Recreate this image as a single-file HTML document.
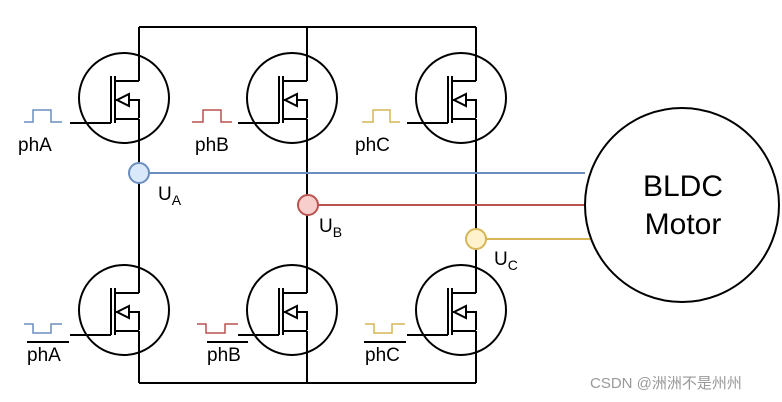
<!DOCTYPE html>
<html><head><style>body{margin:0;background:#fff}svg{display:block}text{font-family:"Liberation Sans",sans-serif}</style></head><body>
<svg width="782" height="402" viewBox="0 0 782 402" xmlns="http://www.w3.org/2000/svg">
<defs>
<g id="m" fill="none" stroke="#000" stroke-width="2">
<circle cx="-15" cy="0" r="45"/>
<path d="M0,-17 H-24 M-24,-22 V25 M-28,-22 V25 M-28,25 H-69 M-24,21 H0 M-24,2 H0 V20"/>
<path d="M-22,2 L-10,-4 V8 Z" fill="#fff"/>
</g>
</defs>
<g fill="none" stroke="#000" stroke-width="2">
<path d="M139,27 H476 M139,383 H476"/>
<path d="M139,27 V81 M139,119 V293 M139,331 V383"/>
<path d="M307,27 V81 M307,119 V293 M307,331 V383"/>
<path d="M476,27 V81 M476,119 V293 M476,331 V383"/>
</g>
<use href="#m" x="139" y="98"/><use href="#m" x="307" y="98"/><use href="#m" x="476" y="98"/>
<use href="#m" x="139" y="310"/><use href="#m" x="307" y="310"/><use href="#m" x="476" y="310"/>
<g fill="none" stroke-width="1.5">
<path d="M24,122 H33 V110 H51 V122 H62" stroke="#6c8ebf"/>
<path d="M192,122 H203 V110 H221 V122 H232" stroke="#b85450"/>
<path d="M362,122 H373 V110 H390 V122 H400" stroke="#d6b656"/>
<path d="M24,324 H33 V333 H51 V324 H62" stroke="#6c8ebf"/>
<path d="M197,324 H206 V333 H225 V324 H238" stroke="#b85450"/>
<path d="M365,324 H374 V333 H392 V324 H405" stroke="#d6b656"/>
</g>
<g stroke-width="2">
<path d="M139,173 H585" stroke="#6c8ebf"/>
<path d="M307,205 H585" stroke="#b85450"/>
<path d="M476,239 H590" stroke="#d6b656"/>
<circle cx="139" cy="173" r="10" fill="#dae8fc" stroke="#6c8ebf"/>
<circle cx="308" cy="205" r="10" fill="#f8cecc" stroke="#b85450"/>
<circle cx="476" cy="239" r="10" fill="#fff2cc" stroke="#d6b656"/>
<circle cx="682" cy="205" r="97" fill="#fff" stroke="#000"/>
</g>
<g font-size="19" fill="#000">
<text x="18" y="151">phA</text><text x="195" y="151">phB</text><text x="355" y="151">phC</text>
<text x="27" y="361">phA</text><text x="207" y="361">phB</text><text x="365" y="361">phC</text>
<text x="158" y="200">U<tspan font-size="14" dy="5">A</tspan></text>
<text x="319" y="232">U<tspan font-size="14" dy="5">B</tspan></text>
<text x="494" y="265">U<tspan font-size="14" dy="5">C</tspan></text>
</g>
<g stroke="#000" stroke-width="2"><path d="M27,342 H69 M207,342 H248 M364,342 H406"/></g>
<g font-size="30" text-anchor="middle"><text x="683" y="196">BLDC</text><text x="683" y="234">Motor</text></g>
<text x="590" y="388" font-size="15" fill="#999" font-family="Liberation Sans,'Noto Sans CJK SC',sans-serif">CSDN @洲洲不是州州</text>
</svg>
</body></html>
